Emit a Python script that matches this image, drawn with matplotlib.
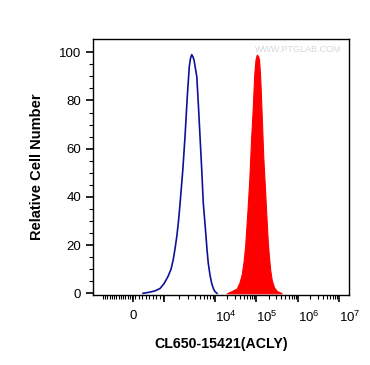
import numpy as np
import matplotlib
matplotlib.use('Agg')
import matplotlib.pyplot as plt

plt.rcParams['font.family'] = ['Liberation Sans', 'DejaVu Sans']
plt.rcParams['mathtext.fontset'] = 'custom'
plt.rcParams['mathtext.rm'] = 'Liberation Sans'
plt.rcParams['mathtext.it'] = 'Liberation Sans'

# channel coordinates (0..1024 display channels) vs relative cell number
ctrl_ch = [200, 228, 248, 268, 284, 300, 312, 321, 328, 335, 342, 348, 359, 368, 377, 385, 390, 395,
           400, 404, 410, 415, 421, 428, 435, 441, 447, 452, 456, 461, 468, 475, 482, 488, 496]
ctrl_y = [0, 0.5, 1, 2, 4, 7, 10, 14, 18.5, 23.5, 30, 37, 51, 65, 81.5, 94, 97.5, 99,
          98, 96.8, 93, 90, 79, 65, 51, 37.5, 30, 23.5, 18, 12.5, 7.5, 4, 1.8, 0.7, 0]

acly_ch = [535, 556, 575, 586, 595, 602, 608, 617, 625, 632, 639, 645, 650, 655, 660, 664, 668, 671,
           676, 681, 688, 695, 700, 704, 709, 715, 724, 735, 755]
acly_y = [0, 1, 2, 4.5, 8, 13, 19, 33, 47, 63.5, 77, 91, 97, 99, 98.5, 97, 91, 84,
          70.5, 56.6, 43, 29, 20, 15, 9.5, 5.5, 2.5, 1, 0]

# axis decoration
major_ch = [160, 284, 488, 652, 820, 984]
major_lbl = ['0', '', r'$10^4$', r'$10^5$', r'$10^6$', r'$10^7$']

fig = plt.figure(figsize=(3.70, 3.65), dpi=100)
ax = fig.add_axes([0.2514, 0.1918, 0.6919, 0.7014])

ax.fill_between(acly_ch, acly_y, 0, color='#ff0000', lw=0.8, ec='#ff0000')
ax.plot(ctrl_ch, ctrl_y, color='#10109a', lw=1.2, solid_joinstyle='round')

ax.set_xlim(0, 1024)
ax.set_ylim(-0.7, 105.5)

# minor ticks: linear-ish below first decade, log spacing above
minor = list(np.linspace(40, 156, 14)) + list(np.linspace(168, 280, 9))
for a, b in zip(major_ch[1:-1], major_ch[2:]):
    minor += [a + (b - a) * np.log10(k) for k in range(2, 10)]
ax.set_xticks(major_ch)
ax.set_xticklabels(major_lbl)
ax.set_xticks(minor, minor=True)
ax.set_yticks([0, 20, 40, 60, 80, 100])
ax.set_yticks(np.arange(0, 105, 5), minor=True)

ax.tick_params(axis='both', which='major', length=5, width=1.2, labelsize=9.5, color='black')
ax.tick_params(axis='both', which='minor', length=3, width=0.8)
ax.tick_params(axis='x', pad=6)
for lbl in ax.get_xticklabels():
    lbl.set_horizontalalignment('left')
ax.xaxis.get_majorticklabels()[0].set_horizontalalignment('center')

for s in ax.spines.values():
    s.set_linewidth(1.0)

ax.set_ylabel('Relative Cell Number', fontsize=10.5, fontweight='bold', labelpad=11)
ax.set_xlabel('CL650-15421(ACLY)', fontsize=10.2, fontweight='bold', labelpad=8)

ax.text(0.97, 0.975, 'WWW.PTGLAB.COM', transform=ax.transAxes, ha='right', va='top',
        fontsize=6.5, color='#d8d8d8')

fig.savefig('out.png', dpi=100)
